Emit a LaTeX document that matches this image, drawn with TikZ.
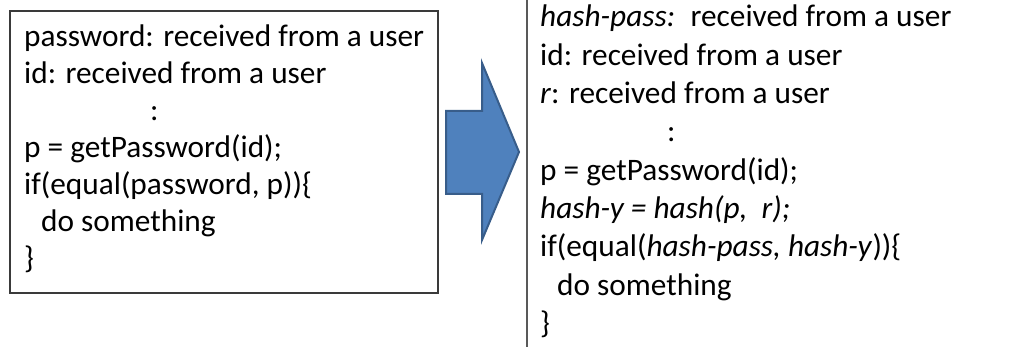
\documentclass[tikz,border=0pt]{standalone}
\usepackage{fontspec}
\setmainfont{Carlito}
\definecolor{boxline}{HTML}{3A3A3A}
\definecolor{sepline}{HTML}{595959}
\definecolor{arrowfill}{HTML}{4F81BD}
\definecolor{arrowline}{HTML}{385D8A}
\tikzset{
  code/.style={anchor=base west, inner sep=0pt, font=\fontsize{31.3}{37}\selectfont, text=black},
  codebox/.style={draw=boxline, line width=1.5pt},
  bigarrow/.style={fill=arrowfill, draw=arrowline, line width=2pt, line join=miter}
}
\newcommand{\indentcode}{\hspace*{17pt}}
\begin{document}
\begin{tikzpicture}[x=1pt,y=-1pt]
  \useasboundingbox (0,0) rectangle (1023,347);

  % original routine
  \draw[codebox] (10,11) rectangle (438,293);
  \node[code] (l1) at (24,47)  {password: received from a user};
  \node[code] (l2) at (24,84)  {id: received from a user};
  \node[code] (l3) at (150,121) {:};
  \node[code] (l4) at (24,158) {p = getPassword(id);};
  \node[code] (l5) at (24,195) {if(equal(password, p))\{};
  \node[code] (l6) at (24,232) {\indentcode do something};
  \node[code] (l7) at (24,269) {\}};

  % transformation arrow
  \draw[bigarrow] (446,111) -- (482,111) -- (482,63) -- (519,152)
                  -- (482,240) -- (482,194) -- (446,194) -- cycle;

  % hashed routine
  \draw[sepline, line width=2pt] (527,0) -- (527,347);
  \node[code] (r1) at (540,27)    {\textit{hash-pass:}\hspace{6pt} received from a user};
  \node[code] (r2) at (540,65.3)  {id: received from a user};
  \node[code] (r3) at (540,103.6) {\textit{r}: received from a user};
  \node[code] (r4) at (667,141.9) {:};
  \node[code] (r5) at (540,180.2) {p = getPassword(id);};
  \node[code] (r6) at (540,218.5) {\textit{hash-y = hash(p,\ \ r);}};
  \node[code] (r7) at (540,256.8) {if(equal(\textit{hash-pass, hash-y}))\{};
  \node[code] (r8) at (540,295.1) {\indentcode do something};
  \node[code] (r9) at (540,333.4) {\}};
\end{tikzpicture}
\end{document}
